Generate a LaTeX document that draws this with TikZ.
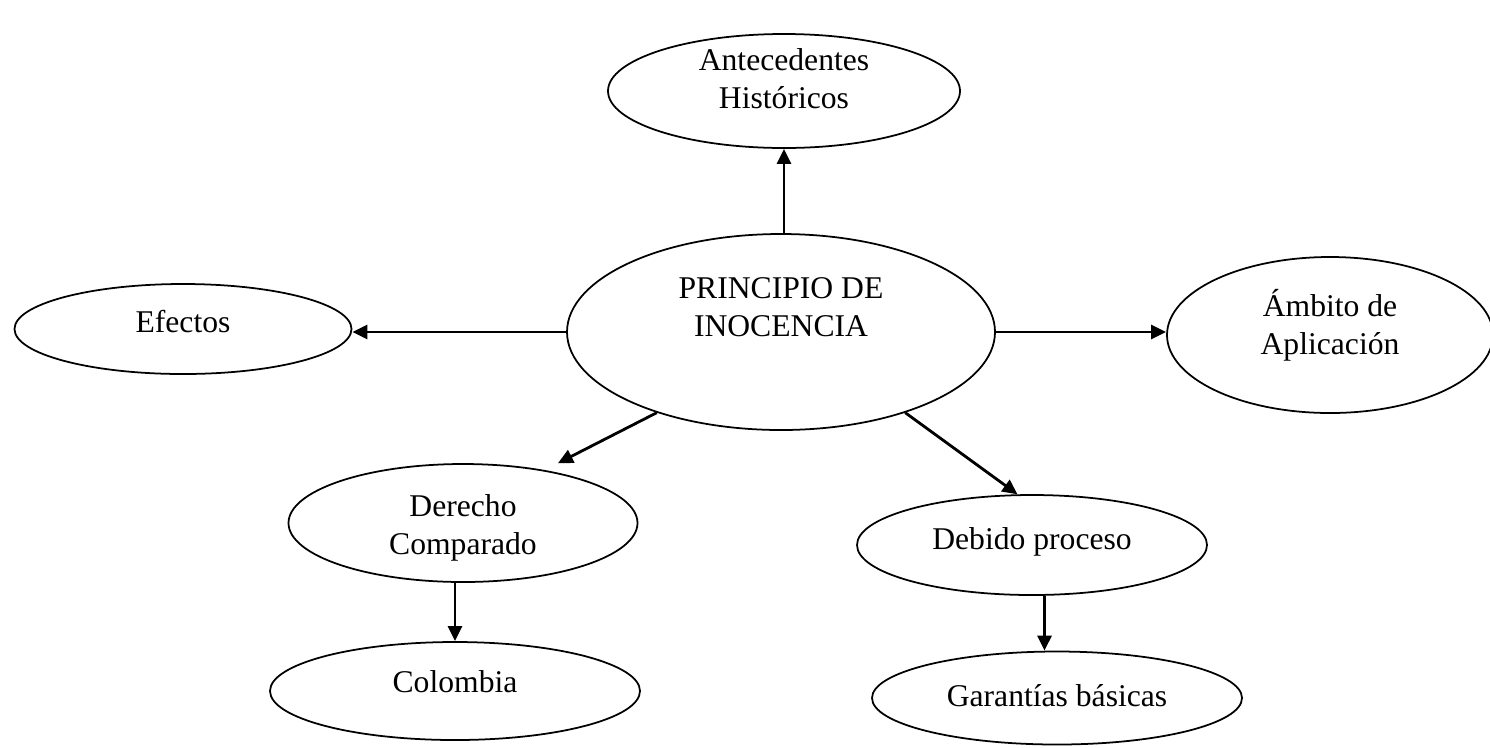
\documentclass[tikz,border=0pt]{standalone}
\usepackage{fontspec}
\setmainfont{Liberation Serif}
\usetikzlibrary{shapes.geometric,arrows.meta,calc}

\tikzset{
  bubble/.style={draw, ellipse, line width=1pt, inner sep=0pt},
  every label/.style={align=center},
  arr/.style={line width=1.6pt, -{Triangle[length=0.3cm,width=0.28cm]}}
}

\begin{document}
\begin{tikzpicture}[font=\fontsize{18}{21.5}\selectfont]
        \useasboundingbox (0,0) rectangle (29.8,-14.94);

        \node[bubble, minimum width=8.56cm, minimum height=3.92cm,
              label={[yshift=0.5cm]center:{PRINCIPIO DE\\INOCENCIA}}] (prin) at (15.62,-6.64) {};
        \node[bubble, minimum width=7.04cm, minimum height=2.28cm,
              label={[yshift=0.24cm]center:{Antecedentes\\Históricos}}] (ante) at (15.68,-1.82) {};
        \node[bubble, minimum width=6.74cm, minimum height=1.8cm,
              label={[yshift=0.14cm]center:Efectos}] (efectos) at (3.66,-6.58) {};
        \node[bubble, minimum width=6.52cm, minimum height=3.12cm,
              label={[yshift=0.2cm]center:{Ámbito de\\Aplicación}}] (ambito) at (26.6,-6.7) {};
        \node[bubble, minimum width=6.98cm, minimum height=2.36cm,
              label={[yshift=-0.1cm]center:{Derecho\\Comparado}}] (derecho) at (9.26,-10.46) {};
        \node[bubble, minimum width=7.4cm, minimum height=1.96cm,
              label={[yshift=0.18cm]center:Colombia}] (colombia) at (9.1,-13.82) {};
        \node[bubble, minimum width=7.0cm, minimum height=2.0cm,
              label={[yshift=0.06cm]center:Debido proceso}] (debido) at (20.64,-10.9) {};
        \node[bubble, minimum width=7.4cm, minimum height=1.86cm,
              label={[yshift=0.04cm]center:Garantías básicas}] (garant) at (21.14,-13.96) {};

        \coordinate (mid) at ($(debido.south)!0.5!(garant.north)$);

        \path (prin.north -| ante.south) edge[arr] (ante.south);
        \path (prin.west) edge[arr] (prin.west -| efectos.east);
        \path (prin.east) edge[arr] (prin.east -| ambito.west);
        \path (prin.213) edge[arr, shorten >=0.3cm] (derecho.33);
        \path (prin.327) edge[arr] (debido.106);
        \path (derecho.south -| colombia.north) edge[arr] (colombia.north);
        \path (debido.south -| mid) edge[arr] (garant.north -| mid);
      \end{tikzpicture}
\end{document}
